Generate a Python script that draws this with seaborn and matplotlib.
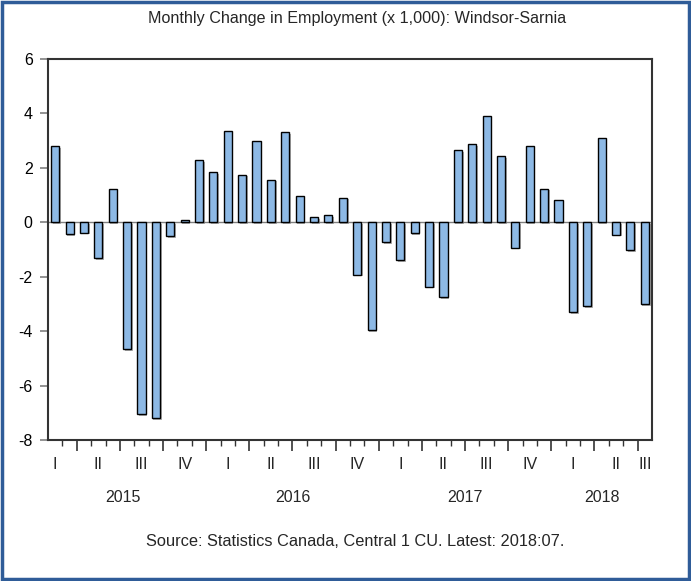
import matplotlib
matplotlib.use("Agg")
import matplotlib.pyplot as plt
import matplotlib.patheffects as pe
from matplotlib.patches import Rectangle
from matplotlib.transforms import blended_transform_factory
import numpy as np
import pandas as pd
import seaborn as sns

# Monthly change in employment (thousands), Feb 2015 - Jul 2018
months = pd.period_range("2015-02", "2018-07", freq="M").strftime("%Y:%m").tolist()
change = [
    2.79, -0.43, -0.38, -1.33, 1.23, -4.67, -7.06, -7.20, -0.52, 0.10, 2.29,
    1.83, 3.36, 1.75, 2.97, 1.57, 3.31, 0.98, 0.20, 0.27, 0.90, -1.93,
    -3.96, -0.74, -1.39, -0.40, -2.37, -2.76, 2.64, 2.87, 3.89, 2.44,
    -0.93, 2.81, 1.23, 0.82, -3.30, -3.08, 3.09, -0.45, -1.02, -3.01,
]
quarter_names = ["I", "II", "III", "IV"]
years = ["2015", "2016", "2017", "2018"]
y_ticks = [-8, -6, -4, -2, 0, 2, 4, 6]

title = "Monthly Change in Employment (x 1,000): Windsor-Sarnia"
source = "Source: Statistics Canada, Central 1 CU. Latest: 2018:07."

df = pd.DataFrame({"month": months, "change": change})

sns.set_theme(style="white")
plt.rcParams["font.family"] = ["Liberation Sans", "DejaVu Sans"]

W, H = 691, 581
fig = plt.figure(figsize=(W / 100, H / 100), dpi=100)
ax = fig.add_axes([48 / W, 1 - 440 / H, (652 - 48) / W, (440 - 59) / H])

sns.barplot(data=df, x="month", y="change", order=months, color="#8DB9E5",
            saturation=1, edgecolor="black", linewidth=1.0, width=0.56, ax=ax)
for bar in ax.patches:
    bar.set_path_effects([pe.SimplePatchShadow(offset=(1.2, -1.2), shadow_rgbFace="#7a7a7a", alpha=0.6),
                          pe.Normal()])

ax.axhline(0, color="#808080", lw=1.0, zorder=0.5)

n = len(months)
ax.set_xlim(-0.5, n - 0.5)
ax.set_ylim(-8, 6)
ax.set_yticks(y_ticks)
ax.set_yticklabels([str(v) for v in y_ticks])
ax.set_xlabel("")
ax.set_ylabel("")

# month boundaries (minor) and quarter boundaries (major)
period = pd.period_range("2015-02", "2018-07", freq="M")
bounds = np.arange(0.5, n - 0.5, 1.0)
qb = [i - 0.5 for i in range(1, n) if period[i].month in (1, 4, 7, 10)]
ax.set_xticks(qb)
ax.set_xticklabels([])
ax.set_xticks(bounds, minor=True)
ax.tick_params(axis="x", which="major", direction="out", length=8, width=1.2, color="#333333", bottom=True)
ax.tick_params(axis="x", which="minor", direction="out", length=4, width=1.0, color="#333333", bottom=True)
ax.tick_params(axis="y", direction="out", length=6, width=1.2, color="#808080", left=True,
               labelsize=11.5, pad=5, labelcolor="black")

for s in ax.spines.values():
    s.set_visible(True)
    s.set_color("#333333")
    s.set_linewidth(1.5)

tr = blended_transform_factory(ax.transData, ax.transAxes)
per_q = period.quarter
per_y = period.year
# quarter labels at the middle month of each quarter, kept inside the data range
qkeys = sorted(set(zip(per_y, per_q)))
for (yr, q) in qkeys:
    mid_month = (q - 1) * 3 + 2
    idx = (yr - 2015) * 12 + mid_month - 2
    idx = min(max(idx, 0), n - 1)
    ax.text(idx, -0.065, quarter_names[q - 1], transform=tr, ha="center", va="center", fontsize=11.5)
for yr in years:
    idxs = [i for i in range(n) if per_y[i] == int(yr)]
    ax.text(np.mean(idxs) - (0.3 if yr == "2015" else 0), -0.15, yr, transform=tr,
            ha="center", va="center", fontsize=11.5)

fig.text(0.5 + 11.5 / W, 1 - 19 / H, title, ha="center", va="center", fontsize=11.6,
         family=["Liberation Sans Narrow", "Liberation Sans", "DejaVu Sans"])
fig.text(0.5 + 9.5 / W, 1 - 541 / H, source, ha="center", va="center", fontsize=11.8)

fig.patches.append(Rectangle((1.5 / W, 2.5 / H), (W - 3.5) / W, (H - 4) / H, transform=fig.transFigure,
                             fill=False, edgecolor="#2F5C98", linewidth=2.5))

fig.savefig("out.png", dpi=100)
